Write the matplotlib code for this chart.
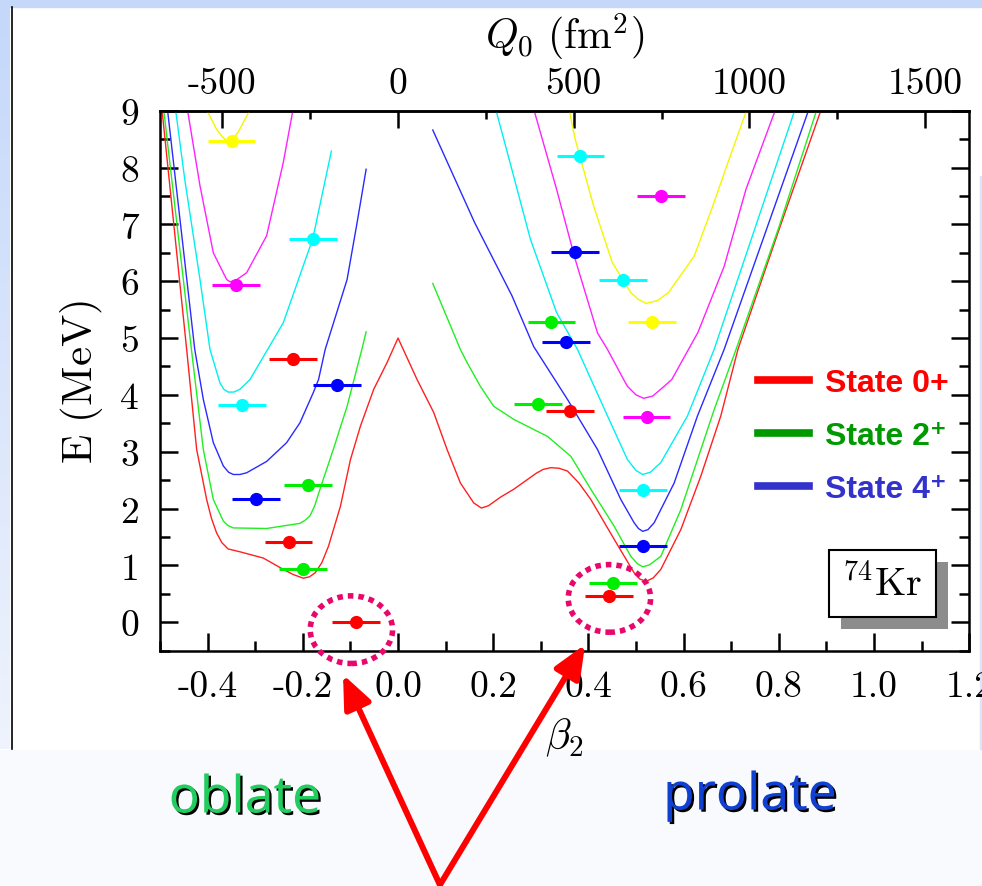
import numpy as np
import matplotlib
matplotlib.use('Agg')
import matplotlib.pyplot as plt
from matplotlib.lines import Line2D
from matplotlib.patches import Ellipse, Rectangle, FancyArrowPatch
import matplotlib.patheffects as pe

plt.rcParams['mathtext.fontset'] = 'cm'
plt.rcParams['axes.unicode_minus'] = False

# potential energy curves, columns: beta2, E (MeV)
red_curve = np.array([
    [-0.4956, 9.0], [-0.444, 4.80], [-0.423, 3.04], [-0.402, 2.16], [-0.392, 1.83],
    [-0.381, 1.57], [-0.370, 1.40], [-0.357, 1.29], [-0.332, 1.24], [-0.283, 1.13],
    [-0.241, 0.93], [-0.220, 0.84], [-0.199, 0.775], [-0.186, 0.80], [-0.174, 0.87],
    [-0.160, 1.05], [-0.146, 1.34], [-0.121, 2.04], [-0.100, 2.86], [-0.079, 3.45],
    [-0.051, 4.10], [-0.023, 4.57], [0.0, 5.0], [0.040, 4.27], [0.075, 3.69],
    [0.103, 3.04], [0.131, 2.45], [0.159, 2.10], [0.175, 2.01], [0.190, 2.05],
    [0.215, 2.20], [0.243, 2.34], [0.290, 2.62], [0.305, 2.69], [0.321, 2.72],
    [0.338, 2.71], [0.356, 2.66], [0.380, 2.45], [0.405, 2.16], [0.454, 1.46],
    [0.496, 0.87], [0.508, 0.76], [0.521, 0.72], [0.536, 0.78], [0.552, 0.93],
    [0.594, 1.63], [0.636, 2.57], [0.678, 3.63], [0.714, 4.80], [0.800, 6.90],
    [0.888, 9.0]])

green_oblate = np.array([
    [-0.492, 9.0], [-0.434, 4.80], [-0.409, 3.04], [-0.388, 2.16], [-0.367, 1.78],
    [-0.357, 1.70], [-0.346, 1.66], [-0.276, 1.65], [-0.206, 1.74], [-0.196, 1.79],
    [-0.185, 1.87], [-0.175, 2.05], [-0.164, 2.34], [-0.136, 3.04], [-0.107, 3.80],
    [-0.076, 4.80], [-0.067, 5.11]])
green_prolate = np.array([
    [0.073, 5.96], [0.131, 4.80], [0.145, 4.57], [0.173, 4.15], [0.201, 3.80],
    [0.243, 3.57], [0.314, 3.27], [0.363, 2.92], [0.405, 2.34], [0.454, 1.69],
    [0.489, 1.16], [0.503, 1.03], [0.514, 0.975], [0.528, 1.01], [0.552, 1.16],
    [0.594, 1.98], [0.629, 2.86], [0.664, 3.74], [0.710, 4.80], [0.800, 6.95],
    [0.879, 9.0]])

blue_oblate = np.array([
    [-0.484, 9.0], [-0.427, 4.80], [-0.409, 3.92], [-0.388, 3.16], [-0.367, 2.75],
    [-0.356, 2.64], [-0.346, 2.60], [-0.332, 2.60], [-0.318, 2.63], [-0.276, 2.83],
    [-0.234, 3.16], [-0.206, 3.51], [-0.178, 4.04], [-0.167, 4.27], [-0.153, 4.80],
    [-0.107, 6.03], [-0.086, 7.03], [-0.067, 7.97]])
blue_prolate = np.array([
    [0.073, 8.66], [0.161, 7.03], [0.239, 5.75], [0.285, 4.85], [0.356, 3.92],
    [0.419, 3.04], [0.468, 2.16], [0.496, 1.75], [0.505, 1.65], [0.514, 1.60],
    [0.525, 1.63], [0.538, 1.75], [0.580, 2.45], [0.629, 3.63], [0.685, 4.80],
    [0.862, 9.0]])

cyan_oblate = np.array([
    [-0.467, 9.0], [-0.448, 7.79], [-0.416, 6.03], [-0.395, 4.80], [-0.374, 4.21],
    [-0.366, 4.10], [-0.357, 4.05], [-0.345, 4.05], [-0.332, 4.10], [-0.311, 4.27],
    [-0.241, 5.27], [-0.179, 6.75], [-0.140, 8.29]])
cyan_prolate = np.array([
    [0.206, 9.0], [0.239, 7.97], [0.278, 6.74], [0.333, 5.45], [0.377, 4.80],
    [0.440, 3.63], [0.482, 2.86], [0.500, 2.67], [0.514, 2.60], [0.530, 2.64],
    [0.552, 2.81], [0.608, 3.63], [0.664, 4.80], [0.833, 9.0]])

magenta_oblate = np.array([
    [-0.442, 9.0], [-0.416, 7.68], [-0.388, 6.50], [-0.360, 6.03], [-0.353, 5.99],
    [-0.340, 6.02], [-0.318, 6.15], [-0.276, 6.80], [-0.241, 8.09], [-0.221, 9.0]])
magenta_prolate = np.array([
    [0.286, 9.0], [0.333, 7.62], [0.372, 6.39], [0.419, 5.09], [0.440, 4.80],
    [0.474, 4.27], [0.482, 4.15], [0.500, 4.00], [0.516, 3.94], [0.535, 3.98],
    [0.552, 4.10], [0.575, 4.27], [0.630, 5.10], [0.685, 6.26], [0.731, 7.62],
    [0.792, 9.0]])

yellow_oblate = np.array([
    [-0.401, 9.0], [-0.381, 8.67], [-0.370, 8.55], [-0.360, 8.47], [-0.348, 8.50],
    [-0.336, 8.62], [-0.312, 9.0]])
yellow_prolate = np.array([
    [0.360, 9.0], [0.372, 8.50], [0.411, 7.32], [0.450, 6.33], [0.489, 5.80],
    [0.505, 5.68], [0.521, 5.61], [0.545, 5.66], [0.568, 5.80], [0.622, 6.44],
    [0.661, 7.32], [0.693, 8.09], [0.732, 9.0]])

# calculated levels (beta2, E) with their beta spread
red_pts = np.array([[-0.220, 4.64], [-0.230, 1.415], [-0.088, 0.0], [0.361, 3.715], [0.443, 0.47]])
green_pts = np.array([[-0.189, 2.41], [-0.200, 0.945], [0.322, 5.28], [0.294, 3.845], [0.452, 0.69]])
blue_pts = np.array([[-0.128, 4.17], [-0.298, 2.17], [0.372, 6.51], [0.353, 4.93], [0.514, 1.34]])
cyan_pts = np.array([[-0.179, 6.75], [-0.328, 3.82], [0.383, 8.20], [0.472, 6.03], [0.514, 2.32]])
magenta_pts = np.array([[-0.340, 5.93], [0.552, 7.50], [0.522, 3.62]])
yellow_pts = np.array([[-0.3495, 8.46], [0.533, 5.28]])
beta_err = 0.05

x_ticks = [-0.4, -0.2, 0.0, 0.2, 0.4, 0.6, 0.8, 1.0, 1.2]
q_ticks = [-500, 0, 500, 1000, 1500]
q_per_beta = 1355.0

legend_labels = ['State 0+', 'State 2\u207a', 'State 4\u207a']
legend_colors = ['#ff0000', '#009a00', '#3333cc']

W, H = 982, 887


def fr(x, y):
    # pixel position from the top left -> figure fraction
    return x / W, 1 - y / H


fig = plt.figure(figsize=(W / 100, H / 100), dpi=100, facecolor='#f8fafe')

# slide background
fig.patches.append(Rectangle(fr(0, 750), 1, 750 / H, transform=fig.transFigure,
                             color='white', zorder=-10))
fig.patches.append(Rectangle(fr(0, 8), 1, 8 / H, transform=fig.transFigure,
                             color='#c5d8fa', zorder=-9))
grad = np.linspace(0, 1, 100)[:, None]
ax_bg = fig.add_axes([0, fr(0, 750)[1], 10 / W, 742 / H])
ax_bg.imshow(grad, aspect='auto', cmap=matplotlib.colors.LinearSegmentedColormap.from_list(
    'g', ['#c5d8fa', '#eef3fd']), extent=[0, 1, 0, 1])
ax_bg.axis('off')
fig.add_artist(Line2D([11.5 / W, 11.5 / W], [fr(0, 8)[1], fr(0, 750)[1]],
                      transform=fig.transFigure, color='black', lw=1.2))
fig.patches.append(Rectangle(fr(980, 750), 2 / W, 573 / H, transform=fig.transFigure,
                             color='#dbe5fa', zorder=-8))

ax = fig.add_axes([160 / W, fr(0, 651.7)[1], 809.3 / W, 540 / H])
ax.set_facecolor('none')
ax.set_xlim(-0.5, 1.2)
ax.set_ylim(-0.5, 9)

lw_c = 1.0
ax.plot(red_curve[:, 0], red_curve[:, 1], color='#ff2020', lw=lw_c)
for arr, c in [(green_oblate, '#22ee22'), (green_prolate, '#22ee22'),
               (blue_oblate, '#2a2aff'), (blue_prolate, '#2a2aff'),
               (cyan_oblate, '#00f0f0'), (cyan_prolate, '#00f0f0'),
               (magenta_oblate, '#ff22ff'), (magenta_prolate, '#ff22ff'),
               (yellow_oblate, '#f5f500'), (yellow_prolate, '#f5f500')]:
    ax.plot(arr[:, 0], arr[:, 1], color=c, lw=lw_c)

for pts, c in [(red_pts, '#ff0000'), (green_pts, '#00ee00'), (blue_pts, '#0000ff'),
               (cyan_pts, '#00ffff'), (magenta_pts, '#ff00ff'), (yellow_pts, '#ffff00')]:
    ax.errorbar(pts[:, 0], pts[:, 1], xerr=beta_err, fmt='o', color=c, ms=8.5,
                elinewidth=2.2, capsize=0, zorder=4)

# axes styling
for s in ax.spines.values():
    s.set_linewidth(1.8)
ax.set_xticks(x_ticks)
ax.set_xticklabels(['%.1f' % v for v in x_ticks])
ax.set_xticks(np.arange(-0.5, 1.25, 0.1), minor=True)
ax.set_yticks(range(10))
ax.set_yticks(np.arange(-0.5, 9.01, 0.5), minor=True)
ax.tick_params(which='both', direction='in', right=True, top=False, width=1.8,
               labelsize=27, labelfontfamily='cmr10')
ax.tick_params(which='major', length=13)
ax.tick_params(which='minor', length=7)
ax.tick_params(axis='x', pad=14)
ax.tick_params(axis='y', pad=15)

sec = ax.secondary_xaxis('top', functions=(lambda b: b * q_per_beta, lambda q: q / q_per_beta))
sec.set_xticks(q_ticks)
sec.set_xticklabels([str(v) for v in q_ticks])
sec.set_xticks([-250, 250, 750, 1250], minor=True)
sec.tick_params(which='both', direction='in', width=1.8, labelsize=27,
                labelfontfamily='cmr10', pad=8)
sec.tick_params(which='major', length=12)
sec.tick_params(which='minor', length=6)
sec.spines['top'].set_linewidth(1.8)
sec.set_xlabel(r'$Q_0\ (\mathrm{fm}^2)$', fontsize=30)
sec.xaxis.set_label_coords(0.5, 1.09, transform=ax.transAxes)
sec.xaxis.label.set_va('bottom')

ax.set_xlabel(r'$\beta_2$', fontsize=30)
ax.xaxis.set_label_coords(0.5, -0.12)
ax.set_ylabel(r'$\mathrm{E\ (MeV)}$', fontsize=31)
ax.yaxis.set_label_coords(-0.068, 0.5)

handles = [Line2D([], [], color=c, lw=5.5) for c in legend_colors]
ax.legend(handles, legend_labels, loc='upper left',
          bbox_to_anchor=((758 - 160) / 809.3, (651.7 - 369) / 540),
          frameon=False, borderpad=0, borderaxespad=0, handlelength=1.6,
          handletextpad=0.5, labelspacing=0.72, labelcolor=legend_colors,
          prop={'family': ['Liberation Sans', 'DejaVu Sans'], 'weight': 'bold', 'size': 23})

kr = ax.text(0.893, 0.1244, r'${}^{74}\mathrm{Kr}$', transform=ax.transAxes, fontsize=29,
             ha='center', va='center', zorder=6,
             bbox=dict(boxstyle='square,pad=0.33', fc='white', ec='black', lw=1.5))
kr.get_bbox_patch().set_path_effects([
    pe.withSimplePatchShadow(offset=(8.5, -8.5), shadow_rgbFace='#8c8c8c', alpha=1.0)])

# dotted rings around the ground states
for cx, cy in [(-0.098, -0.13), (0.444, 0.42)]:
    ax.add_patch(Ellipse((cx, cy), 0.173, 1.19, fill=False, ec='#e8086c', lw=4.0,
                         ls=(0, (1.0, 0.9)), clip_on=False, zorder=7))

# red arrows
for tip in [(-0.1155, -0.92), (0.393, -0.39)]:
    ax.add_patch(FancyArrowPatch((0.088, -4.62), tip, transform=ax.transData,
                                 arrowstyle='-|>,head_length=20,head_width=8.5',
                                 mutation_scale=1, lw=4.3, color='#ff0000',
                                 shrinkA=0, shrinkB=0, clip_on=False, zorder=8))

shadow = [pe.withSimplePatchShadow(offset=(1.6, -1.6), shadow_rgbFace='black', alpha=1.0)]
fig.text(*fr(245, 800), 'oblate', fontsize=37, color='#22cc5e', ha='center', va='center',
         family='Noto Sans', weight='bold', path_effects=shadow)
fig.text(*fr(750, 797), 'prolate', fontsize=37, color='#1040d0', ha='center', va='center',
         family='Noto Sans', weight='bold', path_effects=shadow)

fig.savefig('out.png', dpi=100, facecolor=fig.get_facecolor())
